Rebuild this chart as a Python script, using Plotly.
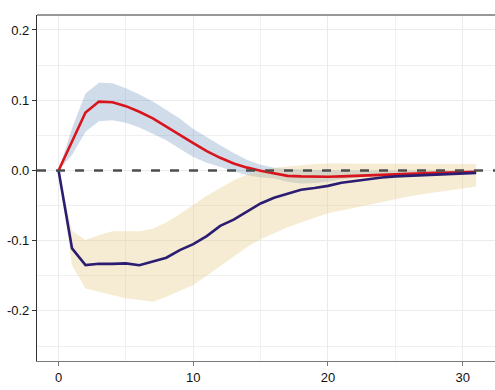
import plotly.graph_objects as go

# Horizon (periods after the shock)
horizon = list(range(32))

# Response 1 (red) with its confidence band
resp_red = [0, 0.042, 0.0825, 0.098, 0.097, 0.0915, 0.0835, 0.074, 0.062, 0.050,
            0.039, 0.0275, 0.018, 0.010, 0.004, -0.0005, -0.004, -0.0077, -0.0085, -0.009,
            -0.009, -0.0085, -0.0077, -0.007, -0.006, -0.005, -0.0045, -0.004, -0.0035, -0.003,
            -0.0025, -0.002]
red_upper = [0, 0.060, 0.1095, 0.125, 0.124, 0.117, 0.108, 0.098, 0.086, 0.074,
             0.059, 0.047, 0.036, 0.025, 0.015, 0.008, 0.004, 0.002, 0.001, 0.0005,
             0.0, 0.0, 0.0, 0.0, 0.0, 0.0, 0.0, 0.0, 0.0, 0.0,
             0.0, 0.0]
red_lower = [0, 0.022, 0.055, 0.070, 0.0715, 0.068, 0.061, 0.0525, 0.043, 0.031,
             0.019, 0.011, 0.005, -0.001, -0.0067, -0.010, -0.0115, -0.016, -0.0185, -0.018,
             -0.016, -0.0125, -0.0105, -0.009, -0.008, -0.007, -0.0065, -0.006, -0.0055, -0.005,
             -0.0045, -0.004]

# Response 2 (navy) with its confidence band
resp_navy = [0, -0.111, -0.1347, -0.1328, -0.133, -0.1323, -0.135, -0.130, -0.1243, -0.1134,
             -0.105, -0.0935, -0.079, -0.070, -0.059, -0.047, -0.039, -0.0335, -0.0275, -0.025,
             -0.022, -0.0176, -0.0152, -0.012, -0.010, -0.0085, -0.0077, -0.007, -0.006, -0.005,
             -0.004, -0.0035]
navy_upper = [0, -0.086, -0.099, -0.092, -0.0865, -0.086, -0.0865, -0.083, -0.074, -0.062,
              -0.049, -0.036, -0.025, -0.014, -0.006, 0.000, 0.004, 0.006, 0.008, 0.009,
              0.010, 0.010, 0.010, 0.010, 0.010, 0.010, 0.010, 0.0095, 0.0095, 0.009,
              0.009, 0.009]
navy_lower = [0, -0.135, -0.168, -0.1727, -0.1774, -0.182, -0.1845, -0.187, -0.180, -0.172,
              -0.163, -0.150, -0.136, -0.122, -0.109, -0.098, -0.089, -0.081, -0.074, -0.067,
              -0.061, -0.057, -0.053, -0.049, -0.044, -0.040, -0.037, -0.034, -0.031, -0.028,
              -0.0256, -0.023]

x_ticks = [0, 10, 20, 30]
y_ticks = [-0.2, -0.1, 0.0, 0.1, 0.2]
y_ticklabels = ["-0.2", "-0.1", "0.0", "0.1", "0.2"]

BLUE_BAND = "rgba(100,140,185,0.30)"
BEIGE_BAND = "rgba(230,200,130,0.35)"
RED = "#d9141c"
NAVY = "#2b1d72"

fig = go.Figure()

def add_band(lower, upper, color):
    fig.add_trace(go.Scatter(x=horizon, y=lower, mode="lines", line=dict(width=0),
                             hoverinfo="skip", showlegend=False))
    fig.add_trace(go.Scatter(x=horizon, y=upper, mode="lines", line=dict(width=0),
                             fill="tonexty", fillcolor=color,
                             hoverinfo="skip", showlegend=False))

add_band(red_lower, red_upper, BLUE_BAND)
add_band(navy_lower, navy_upper, BEIGE_BAND)

fig.add_trace(go.Scatter(x=horizon, y=resp_red, mode="lines",
                         line=dict(color=RED, width=2.6), showlegend=False))
fig.add_trace(go.Scatter(x=horizon, y=resp_navy, mode="lines",
                         line=dict(color=NAVY, width=2.6), showlegend=False))

# zero reference line
fig.add_shape(type="line", xref="paper", yref="y", x0=0, x1=1, y0=0, y1=0,
              line=dict(color="#4d4d4d", width=2.6, dash="9px,10px"), layer="above")
# top panel border
fig.add_shape(type="line", xref="paper", yref="paper", x0=0, x1=1, y0=1, y1=1,
              line=dict(color="#333333", width=1.2), layer="above")

fig.update_layout(
    width=495, height=390,
    margin=dict(l=37, r=0, t=15, b=29),
    paper_bgcolor="white", plot_bgcolor="white",
    font=dict(family="Liberation Sans, Arial, sans-serif", size=13, color="#111111"),
    xaxis=dict(range=[-1.6, 32.4], tickvals=x_ticks, ticktext=[str(v) for v in x_ticks],
               showgrid=True, gridcolor="#ebebeb", gridwidth=1.1,
               minor=dict(dtick=5, tick0=0, showgrid=True, gridcolor="#f0f0f0", gridwidth=0.8),
               zeroline=False, showline=True, linecolor="#7a7a7a", linewidth=1.4,
               ticks="outside", ticklen=4, tickcolor="#7a7a7a", tickwidth=1.2),
    yaxis=dict(range=[-0.2713, 0.2213], tickvals=y_ticks, ticktext=y_ticklabels,
               showgrid=True, gridcolor="#ebebeb", gridwidth=1.1,
               minor=dict(dtick=0.05, tick0=0, showgrid=True, gridcolor="#f0f0f0", gridwidth=0.8),
               zeroline=False, showline=True, linecolor="#333333", linewidth=1.2,
               ticks="outside", ticklen=4, tickcolor="#333333", tickwidth=1.1),
)

fig.write_html("out.html")
